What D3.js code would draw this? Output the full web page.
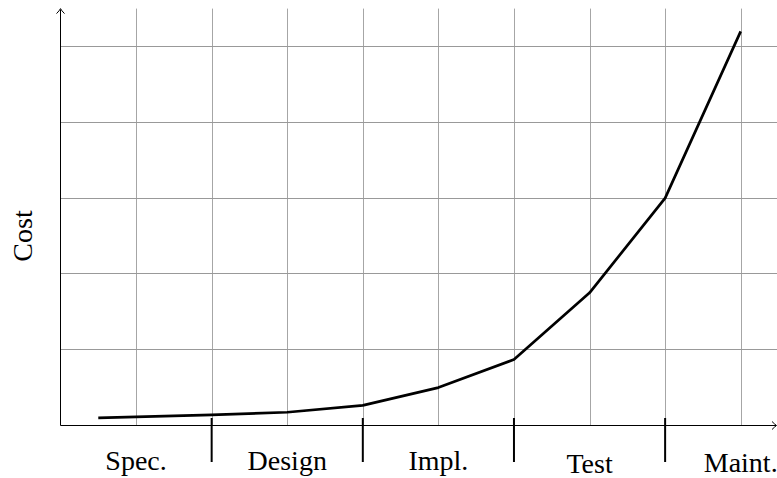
<!DOCTYPE html>
<html>
<head>
<meta charset="utf-8">
<script src="https://cdn.jsdelivr.net/npm/d3@7"></script>
<style>
  html, body { margin: 0; padding: 0; background: #fff; }
  svg { display: block; }
  text { font-family: "Liberation Serif", "Times New Roman", serif; fill: #000; }
</style>
</head>
<body>
<svg id="chart" width="777" height="478"></svg>
<script>
// ---- data ----
const phases = ["Spec.", "Design", "Impl.", "Test", "Maint."];
const phaseCenters = [1, 3, 5, 7, 9];
const phaseBoundaries = [2, 4, 6, 8];
const costX = [0.5, 2, 3, 4, 5, 6, 7, 8, 9];
const costY = [0.1, 0.14, 0.175, 0.265, 0.5, 0.87, 1.75, 3, 5.2];
const gridXTicks = [1, 2, 3, 4, 5, 6, 7, 8, 9];
const gridYTicks = [1, 2, 3, 4, 5];
const yLabel = "Cost";

// ---- layout ----
const svg = d3.select("#chart");
const x = d3.scaleLinear().domain([0, 9]).range([60.5, 740.7]);
const y = d3.scaleLinear().domain([0, 5]).range([425.5, 46.5]);
const yTop = y(5.5);
const xRight = 776;

// grid
const grid = svg.append("g").attr("stroke", "#a6a6a6").attr("stroke-width", 1);
grid.selectAll("line.v").data(gridXTicks).join("line")
  .attr("class", "v")
  .attr("x1", d => Math.round(x(d)) + 0.5).attr("x2", d => Math.round(x(d)) + 0.5)
  .attr("y1", y(0)).attr("y2", yTop);
grid.selectAll("line.h").data(gridYTicks).join("line")
  .attr("class", "h")
  .attr("x1", x(0)).attr("x2", 777)
  .attr("y1", d => Math.round(y(d) - 0.5) + 0.5).attr("y2", d => Math.round(y(d) - 0.5) + 0.5)
  .attr("stroke", "#999");

// axes
const axes = svg.append("g").attr("stroke", "#000").attr("stroke-width", 1).attr("fill", "none");
axes.append("line").attr("x1", x(0)).attr("x2", xRight).attr("y1", y(0)).attr("y2", y(0));
axes.append("line").attr("x1", x(0)).attr("x2", x(0)).attr("y1", y(0)).attr("y2", yTop + 1);
// arrow tips (TikZ-like)
axes.append("path")
  .attr("d", `M${xRight - 4},${y(0) - 4} Q${xRight - 1},${y(0) - 1} ${xRight + 0.5},${y(0)} Q${xRight - 1},${y(0) + 1} ${xRight - 4},${y(0) + 4}`);
axes.append("path")
  .attr("d", `M${x(0) - 4},${yTop + 5} Q${x(0) - 1},${yTop + 2} ${x(0)},${yTop} Q${x(0) + 1},${yTop + 2} ${x(0) + 4},${yTop + 5}`);

// phase boundary ticks
svg.append("g").selectAll("line").data(phaseBoundaries).join("line")
  .attr("x1", d => x(d)).attr("x2", d => x(d))
  .attr("y1", 418).attr("y2", 462)
  .attr("stroke", "#000").attr("stroke-width", 2);

// phase labels (vertically centred by ink, as the original nodes are)
const descender = s => /[gpqyj]/.test(s);
svg.append("g").selectAll("text").data(phases).join("text")
  .attr("x", (d, i) => x(phaseCenters[i]))
  .attr("y", d => descender(d) ? 470 : (d === "Test" ? 473.3 : 471.7))
  .attr("text-anchor", "middle")
  .attr("font-size", 28)
  .text(d => d);

// y label
svg.append("text")
  .attr("transform", `translate(31.5, ${(y(0) + y(5)) / 2}) rotate(-90)`)
  .attr("text-anchor", "middle")
  .attr("font-size", 28)
  .text(yLabel);

// cost curve
const line = d3.line().x(d => x(d[0])).y(d => y(d[1]));
svg.append("path")
  .datum(costX.map((v, i) => [v, costY[i]]))
  .attr("d", line)
  .attr("fill", "none")
  .attr("stroke", "#000")
  .attr("stroke-width", 2.7)
  .attr("stroke-linejoin", "round");
</script>
</body>
</html>
